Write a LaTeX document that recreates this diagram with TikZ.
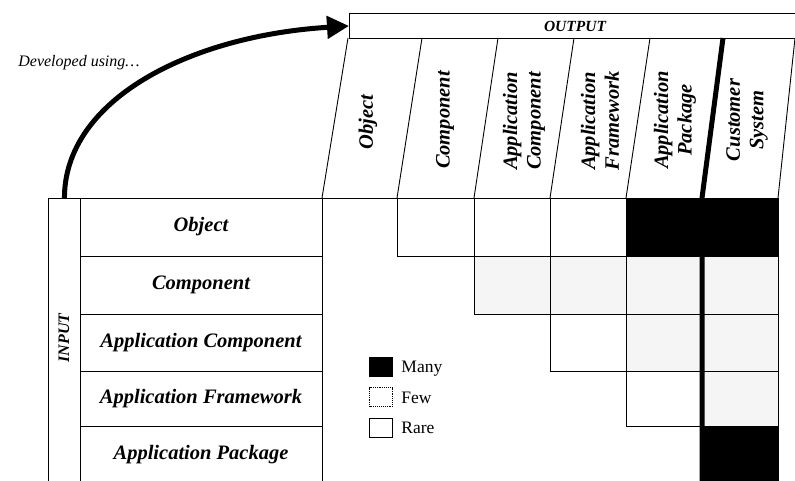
\documentclass[tikz,border=0pt]{standalone}
\usepackage{fontspec}
\setmainfont{Liberation Serif}
\usetikzlibrary{arrows.meta}
\begin{document}
\begin{tikzpicture}[x=1pt,y=-1pt,line width=0.9pt,
  bi/.style={font=\fontsize{#1}{#1}\linespread{1.15}\selectfont\bfseries\itshape},
  rowbox/.style={draw,inner sep=0pt,minimum width=242pt,bi=20.5},
  collab/.style={rotate=90,align=center,inner sep=0pt,bi=20.5},
  rare/.style={draw,fill=white},
  few/.style={draw,fill=black!4},
  many/.style={draw,fill=black},
  legbox/.style={draw,minimum width=23pt,minimum height=19pt,inner sep=0pt},
  legtxt/.style={anchor=west,inner sep=0pt,font=\fontsize{17.5}{17.5}\selectfont}]
\useasboundingbox (0,0) rectangle (795,480);
\clip (0,0) rectangle (795,480);

% output header band
\node[draw,anchor=north west,minimum width=470pt,minimum height=25pt,inner sep=0pt] (output) at (349,13) {};
\node[bi=15.5] (outtxt) at (575,26) {OUTPUT};

% slanted column separators
\draw (348,38) -- (322,198);
\draw (422,38) -- (397,198);
\draw (498,38) -- (474,198);
\draw (574,38) -- (550,198);
\draw (650,38) -- (626,198);
\draw (795,38) -- (778,198);
\draw (48,198) -- (778,198);

% column headings
\node[collab] (cObject) at (368,122) {Object};
\node[collab] (cComponent) at (445,120) {Component};
\node[collab] (cAppComp) at (524,121) {Application\\Component};
\node[collab] (cAppFrame) at (600,121) {Application\\Framework};
\node[collab] (cAppPack) at (675,120) {Application\\Package};
\node[collab] (cCustomer) at (747,120) {Customer\\System};

% input side
\node[draw,anchor=north west,minimum width=32pt,minimum height=286pt,inner sep=0pt] (input) at (48,198) {};
\node[rotate=90,bi=16] (intxt) at (64,338) {INPUT};
\node[rowbox,minimum height=58pt] (rObject) at (201,227) {Object};
\node[rowbox,minimum height=58pt] (rComponent) at (201,285) {Component};
\node[rowbox,minimum height=57pt] (rAppComp) at (201,342.5) {Application Component};
\node[rowbox,minimum height=55pt] (rAppFrame) at (201,398.5) {Application Framework};
\node[rowbox,minimum height=58pt] (rAppPack) at (201,455) {Application Package};

% matrix cells
\path[rare] (397,198) rectangle (474,256);
\path[rare] (474,198) rectangle (550,256);
\path[rare] (550,198) rectangle (626,256);
\path[many] (626,198) rectangle (778,256);
\path[few] (474,256) rectangle (550,314);
\path[few] (550,256) rectangle (626,314);
\path[few] (626,256) rectangle (702,314);
\path[few] (702,256) rectangle (778,314);
\path[few] (626,314) rectangle (702,371);
\path[few] (702,314) rectangle (778,371);
\path[rare] (550,314) rectangle (626,371);
\path[few] (702,371) rectangle (778,426);
\path[rare] (626,371) rectangle (702,426);
\path[many] (702,426) rectangle (778,484);

% heavy divider before customer system
\draw[line width=5pt] (723,38) -- (702,198) -- (702,484);

% legend
\node[legbox,fill=black] (kMany) at (381,367) {};
\node[legbox,densely dotted] (kFew) at (381,397) {};
\node[legbox] (kRare) at (381,428) {};
\node[legtxt] (tMany) at (401,369) {Many};
\node[legtxt] (tFew) at (401,398) {Few};
\node[legtxt] (tRare) at (401,428) {Rare};

% developed-using arrow
\node[font=\fontsize{16}{16}\selectfont\itshape] (dev) at (79,63) {Developed using\ldots};
\draw[line width=5pt,-{Triangle[length=22pt,width=22pt]}]
  (input.north) .. controls +(0,-98) and +(-160,10) .. (output.west);
\end{tikzpicture}
\end{document}
